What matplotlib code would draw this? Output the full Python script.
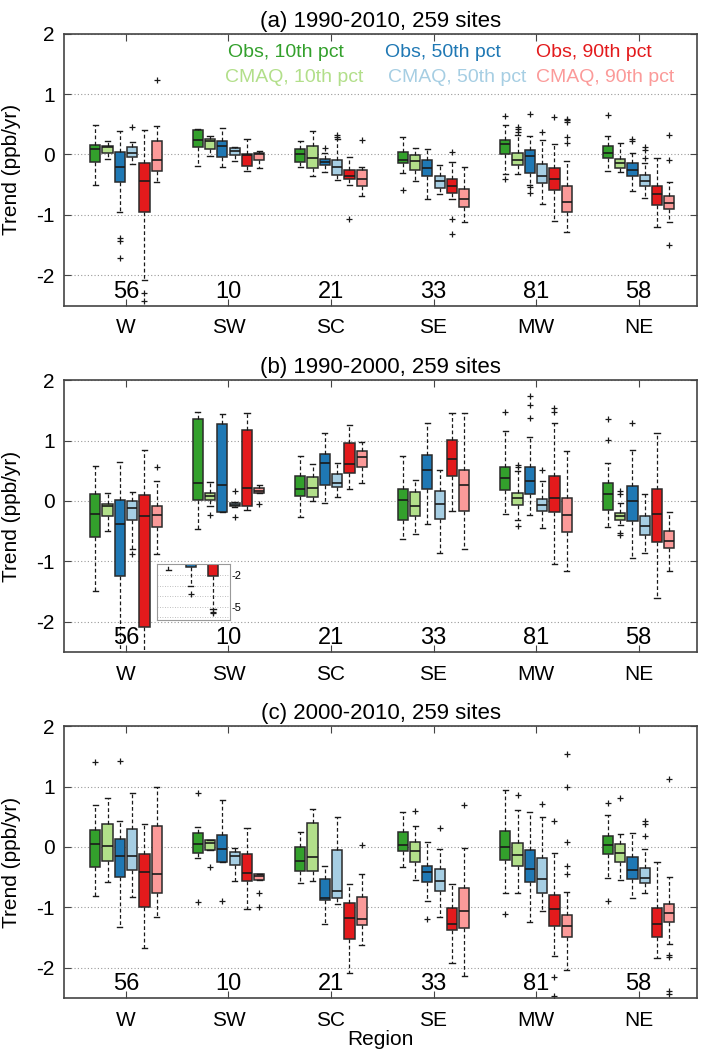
import matplotlib
matplotlib.use('Agg')
import matplotlib.pyplot as plt

plt.rcParams['font.family'] = ['Liberation Sans', 'DejaVu Sans']
plt.rcParams['axes.unicode_minus'] = False

regions = ['W', 'SW', 'SC', 'SE', 'MW', 'NE']
n_sites = [56, 10, 21, 33, 81, 58]
series = ['Obs, 10th pct', 'CMAQ, 10th pct', 'Obs, 50th pct',
          'CMAQ, 50th pct', 'Obs, 90th pct', 'CMAQ, 90th pct']
colors = ['#33a02c', '#b2df8a', '#1f78b4', '#a6cee3', '#e31a1c', '#fb9a99']
titles = ['(a) 1990-2010, 259 sites', '(b) 1990-2000, 259 sites',
          '(c) 2000-2010, 259 sites']

# rows = regions, columns = series (whisker low, q1, median, q3, whisker high)
# (a) 1990-2010
a_lo = [[-0.50, -0.083, -0.95, -0.16, -2.08, -0.46],
        [-0.19, -0.03, -0.215, -0.11, -0.27, -0.23],
        [-0.20, -0.35, -0.29, -0.42, -0.51, -0.68],
        [-0.31, -0.44, -0.73, -0.66, -0.73, -1.12],
        [-0.33, -0.33, -0.50, -0.82, -1.10, -1.28],
        [-0.27, -0.29, -0.60, -0.72, -1.20, -1.11]]
a_q1 = [[-0.12, 0.028, -0.45, -0.04, -0.96, -0.27],
        [0.127, 0.083, -0.05, -0.01, -0.19, -0.094],
        [-0.12, -0.22, -0.18, -0.34, -0.41, -0.52],
        [-0.149, -0.25, -0.35, -0.55, -0.64, -0.865],
        [0.006, -0.176, -0.30, -0.48, -0.58, -0.95],
        [-0.066, -0.22, -0.35, -0.52, -0.84, -0.91]]
a_med = [[0.088, 0.116, -0.204, 0.017, -0.44, -0.094],
         [0.237, 0.22, 0.143, 0.05, -0.01, 0.0],
         [0.0, -0.055, -0.12, -0.20, -0.35, -0.41],
         [-0.094, -0.11, -0.23, -0.44, -0.52, -0.73],
         [0.165, -0.094, -0.028, -0.36, -0.41, -0.78],
         [0.028, -0.149, -0.26, -0.44, -0.66, -0.81]]
a_q3 = [[0.154, 0.143, 0.044, 0.127, -0.14, 0.22],
        [0.41, 0.248, 0.22, 0.10, 0.0, 0.017],
        [0.083, 0.138, -0.083, -0.094, -0.26, -0.26],
        [0.033, -0.01, -0.094, -0.35, -0.41, -0.57],
        [0.237, 0.028, 0.07, -0.165, -0.22, -0.52],
        [0.138, -0.083, -0.138, -0.34, -0.52, -0.68]]
a_hi = [[0.485, 0.22, 0.386, 0.21, 0.41, 0.47],
        [0.42, 0.30, 0.43, 0.127, 0.25, 0.055],
        [0.22, 0.386, 0.017, 0.26, -0.05, -0.20],
        [0.29, 0.10, 0.088, -0.176, -0.13, -0.20],
        [0.485, 0.33, 0.30, 0.237, 0.165, -0.105],
        [0.30, 0.19, 0.017, -0.149, -0.055, -0.45]]
a_out = [[[], [], [-1.39, -1.44, -1.71], [0.45], [-2.30, -2.43], [1.23]],
         [[], [], [], [], [], []],
         [[], [], [0.11], [0.33, 0.29], [-1.07], [0.237]],
         [[-0.59], [], [], [], [0.033, -1.07, -1.31], []],
         [[0.63, -0.40], [0.457, 0.419, 0.375], [0.667, -0.545, -0.645],
          [0.375], [0.62], [0.595, 0.567, 0.53, 0.29, 0.19]],
         [[0.65], [], [0.26, 0.22], [0.116, 0.072, -0.055], [],
          [0.32, -0.094, -1.50]]]

# (b) 1990-2000
b_lo = [[-1.49, -0.50, -3.04, -0.79, -5.25, -0.87],
        [-0.467, -0.088, -0.19, -0.10, -0.154, 0.137],
        [-0.264, -0.005, -0.033, 0.066, 0.19, 0.297],
        [-0.637, -0.54, -0.385, -0.868, -0.165, -0.79],
        [-0.21, -0.32, -0.236, -0.44, -1.04, -1.154],
        [-0.43, -0.40, -0.94, -0.868, -1.61, -1.154]]
b_q1 = [[-0.60, -0.25, -1.24, -0.32, -2.08, -0.43],
        [0.022, 0.011, -0.18, -0.088, -0.088, 0.137],
        [0.082, 0.066, 0.27, 0.23, 0.467, 0.57],
        [-0.32, -0.25, 0.203, -0.297, 0.41, -0.17],
        [0.176, -0.06, 0.12, -0.17, -0.18, -0.52],
        [-0.143, -0.31, -0.33, -0.566, -0.687, -0.786]]
b_med = [[-0.21, -0.08, -0.385, -0.11, -0.25, -0.236],
         [0.297, 0.082, 0.258, -0.06, 0.22, 0.165],
         [0.203, 0.214, 0.63, 0.30, 0.615, 0.725],
         [0.011, -0.088, 0.505, -0.044, 0.70, 0.258],
         [0.38, 0.055, 0.33, -0.06, 0.05, -0.236],
         [0.12, -0.247, 0.0, -0.41, -0.21, -0.66]]
b_q3 = [[0.12, -0.044, 0.01, -0.005, 0.093, -0.08],
        [1.357, 0.137, 1.275, -0.033, 1.176, 0.22],
        [0.41, 0.396, 0.78, 0.45, 0.96, 0.824],
        [0.203, 0.148, 0.764, 0.165, 1.01, 0.516],
        [0.56, 0.137, 0.57, 0.038, 0.41, 0.05],
        [0.30, -0.198, 0.24, -0.247, 0.203, -0.495]]
b_hi = [[0.577, 0.137, 0.65, 0.148, 0.85, 0.33],
        [1.48, 0.313, 1.44, -0.02, 1.456, 0.258],
        [0.736, 0.615, 1.13, 0.63, 1.26, 0.97],
        [0.74, 0.35, 1.286, 0.52, 1.45, 1.45],
        [1.16, 0.50, 1.066, 0.33, 1.286, 0.835],
        [0.63, -0.033, 0.85, 0.11, 1.12, -0.18]]
b_out = [[[], [], [-3.82], [-0.87], [-5.5, -5.62], [0.56]],
         [[], [-0.236], [], [0.16, -0.264], [], [-0.044]],
         [[], [], [], [], [], []],
         [[], [], [], [], [], []],
         [[1.467], [0.60, 0.56, -0.41], [1.73, 1.59, 1.37], [0.505],
          [1.54, 1.467], []],
         [[1.357, 1.01], [0.165, 0.12, -0.53, -0.57], [1.286], [], [], []]]

# (c) 2000-2010
c_lo = [[-0.81, -0.587, -1.32, -0.825, -1.67, -1.16],
        [-0.177, -0.05, -0.25, -0.565, -1.02, -0.55],
        [-0.604, -0.565, -1.27, -0.94, -2.09, -1.63],
        [-0.327, -0.55, -0.90, -1.16, -1.92, -2.13],
        [-0.77, -0.76, -1.25, -1.06, -1.81, -2.03],
        [-0.52, -0.55, -0.84, -0.76, -1.84, -1.60]]
c_q1 = [[-0.327, -0.233, -0.493, -0.38, -0.99, -0.77],
        [-0.105, -0.05, -0.244, -0.30, -0.565, -0.55],
        [-0.40, -0.40, -0.88, -0.84, -1.53, -1.296],
        [-0.06, -0.244, -0.576, -0.73, -1.38, -1.335],
        [-0.216, -0.31, -0.587, -0.77, -1.31, -1.49],
        [-0.122, -0.244, -0.53, -0.604, -1.49, -1.25]]
c_med = [[0.044, 0.017, -0.144, -0.144, -0.416, -0.443],
         [0.044, 0.072, -0.039, -0.144, -0.437, -0.476],
         [-0.227, -0.172, -0.85, -0.73, -1.17, -1.197],
         [0.033, -0.06, -0.41, -0.56, -1.27, -1.064],
         [0.006, -0.133, -0.37, -0.537, -1.02, -1.307],
         [0.033, -0.105, -0.38, -0.51, -1.27, -1.10]]
c_q3 = [[0.283, 0.38, 0.127, 0.30, -0.116, 0.35],
        [0.227, 0.116, 0.20, -0.078, -0.122, -0.454],
        [-0.005, 0.393, -0.53, -0.05, -0.925, -0.825],
        [0.244, 0.078, -0.31, -0.366, -1.01, -0.687],
        [0.266, 0.061, -0.05, -0.177, -0.80, -1.12],
        [0.183, 0.044, -0.16, -0.355, -1.01, -0.947]]
c_hi = [[0.70, 0.81, 0.43, 0.90, 0.377, 0.986],
        [0.338, 0.116, 0.78, -0.022, 0.31, -0.454],
        [0.24, 0.63, -0.31, 0.49, -0.62, -0.454],
        [0.57, 0.35, 0.078, -0.039, -0.615, -0.022],
        [0.936, 0.604, 0.57, 0.49, -0.105, -0.74],
        [0.53, 0.21, 0.227, -0.039, -0.244, -0.493]]
c_out = [[[1.40], [], [1.42], [], [], []],
         [[0.90, -0.91], [-0.327], [-0.90], [], [], [-0.77, -0.99]],
         [[], [], [], [], [], [0.039]],
         [[], [0.60], [-1.197], [0.32], [], [0.687]],
         [[-1.11], [0.853], [], [0.715], [0.432, -2.155, -2.47],
          [1.53, 0.99, 0.089, -0.31, -0.454]],
         [[0.726, -0.89], [0.81], [], [0.43, 0.377, 0.183], [],
          [1.125, -1.795, -1.82, -2.377, -2.43]]]

offsets = [-0.3, -0.18, -0.06, 0.06, 0.18, 0.3]
edge = '#2a2a2a'


def box_stats(lo, q1, med, q3, hi, out, i, j):
    return dict(whislo=lo[i][j], q1=q1[i][j], med=med[i][j], q3=q3[i][j],
                whishi=hi[i][j], fliers=out[i][j])


def draw_boxes(ax, stats, pos, color, width, capw):
    ax.bxp(stats, positions=pos, widths=width, capwidths=capw,
           patch_artist=True, manage_ticks=False,
           boxprops=dict(facecolor=color, edgecolor=edge, linewidth=1.1),
           medianprops=dict(color='#1a1a1a', linewidth=1.2),
           whiskerprops=dict(color='#1a1a1a', linewidth=0.9, linestyle=(0, (3, 2))),
           capprops=dict(color='#1a1a1a', linewidth=1.0),
           flierprops=dict(marker='+', markersize=4, markeredgecolor='#1a1a1a',
                           markeredgewidth=0.9))


def draw_panel(ax, lo, q1, med, q3, hi, out, title):
    for j in range(6):
        stats = [box_stats(lo, q1, med, q3, hi, out, i, j) for i in range(6)]
        pos = [i + 1 + offsets[j] for i in range(6)]
        draw_boxes(ax, stats, pos, colors[j], 0.1, 0.05)
    for i, n in enumerate(n_sites):
        ax.text(i + 1, -2.27, str(n), ha='center', va='center', fontsize=17)
    ax.set_xlim(0.4, 6.57)
    ax.set_ylim(-2.5, 2)
    ax.set_xticks(range(1, 7))
    ax.set_xticklabels(regions)
    ax.set_yticks([-2, -1, 0, 1, 2])
    ax.yaxis.grid(True, linestyle=(0, (1, 2)), color='#9a9a9a', linewidth=0.8)
    ax.set_axisbelow(True)
    ax.tick_params(direction='in', top=True, right=True, length=5,
                   labelsize=15, color='#444444')
    ax.tick_params(axis='x', pad=9)
    ax.tick_params(axis='y', pad=7)
    for s in ax.spines.values():
        s.set_color('#444444')
        s.set_linewidth(1.2)
    ax.set_ylabel('Trend (ppb/yr)', fontsize=15)
    ax.yaxis.set_label_coords(-0.068, 0.5)
    ax.set_title(title, fontsize=16, pad=5)


fig = plt.figure(figsize=(7.04, 10.5), dpi=100)
bottoms = [0.709, 0.379, 0.0495]
panels = [(a_lo, a_q1, a_med, a_q3, a_hi, a_out),
          (b_lo, b_q1, b_med, b_q3, b_hi, b_out),
          (c_lo, c_q1, c_med, c_q3, c_hi, c_out)]
axes = []
for k in range(3):
    ax = fig.add_axes([0.0916, bottoms[k], 0.8984, 0.259])
    draw_panel(ax, *panels[k], titles[k])
    axes.append(ax)

axes[2].set_xlabel('Region', fontsize=15, labelpad=0)

# legend as coloured text
leg_x = [2.0, 1.97, 3.53, 3.56, 5.0, 5.0]
leg_y = [1.68, 1.28, 1.68, 1.28, 1.68, 1.28]
for j in range(6):
    axes[0].text(leg_x[j], leg_y[j], series[j], color=colors[j], fontsize=14,
                 ha='left', va='center')

# inset showing the long lower tails of W in panel (b)
ax_in = fig.add_axes([0.2234, 0.4095, 0.1037, 0.0533])
in_cols = [0, 2, 4]
in_stats = [box_stats(*panels[1][:6], 0, j) for j in in_cols]
for p, j in enumerate(in_cols):
    draw_boxes(ax_in, [in_stats[p]], [p + 1], colors[j], 0.45, 0.25)
ax_in.set_xlim(0.5, 3.78)
ax_in.set_ylim(-6.25, -0.95)
ax_in.set_xticks([])
ax_in.set_yticks([-6, -5, -4, -3, -2])
ax_in.set_yticklabels(['', '-5', '', '', '-2'])
ax_in.tick_params(axis='y', left=False, right=True, labelleft=False,
                  labelright=True, length=0, labelsize=8, pad=1)
ax_in.yaxis.grid(True, linestyle=(0, (1, 2)), color='#aaaaaa', linewidth=0.6)
ax_in.set_axisbelow(True)
for s in ax_in.spines.values():
    s.set_color('#999999')

fig.savefig('out.png', dpi=100)
